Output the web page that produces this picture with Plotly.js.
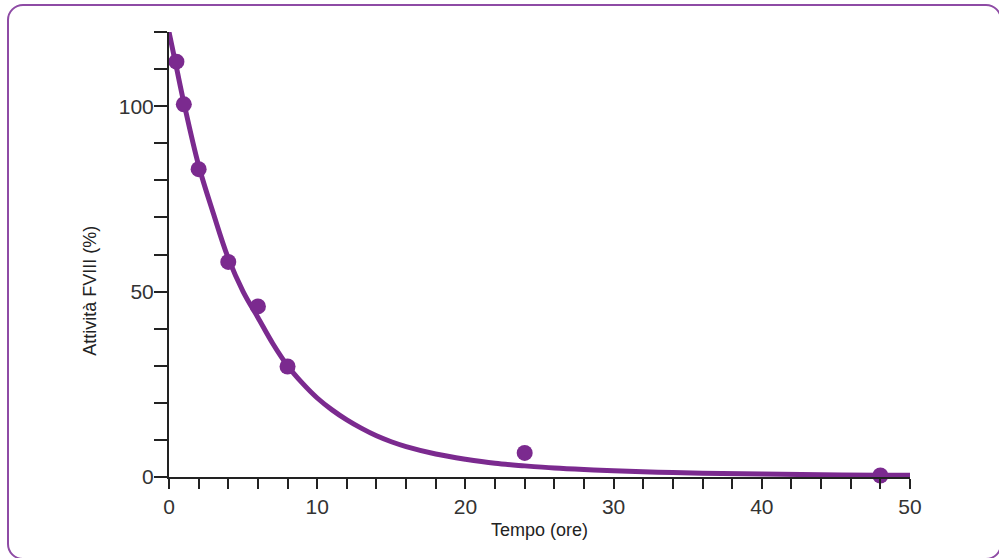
<!DOCTYPE html>
<html>
<head>
<meta charset="utf-8">
<script src="https://cdn.plot.ly/plotly-3.0.1.min.js"></script>
<style>
  html, body { margin: 0; padding: 0; background: #ffffff; overflow: hidden; }
  #frame { position: absolute; left: 7px; top: 4px; width: 991px; height: 552px;
           border: 2px solid #8E4BA5; border-radius: 16px; box-sizing: content-box; }
  #chart { position: absolute; left: 0; top: 0; width: 999px; height: 558px; }
</style>
</head>
<body>
<div id="frame"></div>
<div id="chart"></div>
<script>
// Measured data points (time in hours, FVIII activity %)
const sampleTimes = [0.5, 1, 2, 4, 6, 8, 24, 48];
const sampleActivity = [112, 100.5, 83, 58, 46, 29.8, 6.5, 0.4];

// Fitted curve, values
const curveTimes = [0, 0.5, 1, 2, 3, 4, 5, 6, 7, 8, 9, 10, 11, 12, 13, 14, 15, 16, 18, 20, 22, 24, 26, 28, 30, 33, 36, 40, 44, 48, 50];
const curveActivity = [120, 110.5, 101, 84, 71, 59, 50, 43, 36, 30, 25.3, 21.3, 18.1, 15.4, 13.1, 11.1, 9.5, 8.2, 6.2, 4.8, 3.7, 3.0, 2.4, 2.0, 1.7, 1.3, 1.0, 0.8, 0.6, 0.5, 0.45];

const xTickVals = [0, 10, 20, 30, 40, 50];
const yTickVals = [0, 50, 100];

const xTitle = 'Tempo (ore)';
const yTitle = 'Attività FVIII (%)';

const purple = '#7B2A8F';
const axisColor = '#222222';
const fontFamily = '"Liberation Sans Narrow", "Arial Narrow", "Liberation Sans", sans-serif';

const traces = [
  {
    x: curveTimes, y: curveActivity, type: 'scatter', mode: 'lines',
    line: { color: purple, width: 5, shape: 'spline', smoothing: 1 },
    cliponaxis: false, hoverinfo: 'skip', showlegend: false
  },
  {
    x: sampleTimes, y: sampleActivity, type: 'scatter', mode: 'markers',
    marker: { color: purple, size: 16 },
    cliponaxis: false, showlegend: false
  }
];

const layout = {
  width: 999, height: 558,
  margin: { l: 169, r: 89, t: 32, b: 81 },
  paper_bgcolor: 'rgba(0,0,0,0)',
  plot_bgcolor: 'rgba(0,0,0,0)',
  font: { family: fontFamily, size: 20, color: '#333333' },
  xaxis: {
    range: [0, 50], tickvals: xTickVals, ticktext: xTickVals.map(String),
    ticks: 'outside', ticklen: 10, tickwidth: 2, tickcolor: axisColor,
    minor: { dtick: 2, tick0: 0, ticks: 'outside', ticklen: 10, tickwidth: 2, tickcolor: axisColor },
    showline: true, linecolor: axisColor, linewidth: 2,
    showgrid: false, zeroline: false,
    tickfont: { family: fontFamily, size: 21, color: '#333333' },
    title: { text: xTitle, font: { family: fontFamily, size: 18, color: '#222222' }, standoff: 6 }
  },
  yaxis: {
    range: [0, 120], tickvals: yTickVals, ticktext: yTickVals.map(String),
    ticks: 'outside', ticklen: 13, tickwidth: 2, tickcolor: axisColor,
    minor: { dtick: 10, tick0: 0, ticks: 'outside', ticklen: 13, tickwidth: 2, tickcolor: axisColor },
    showline: true, linecolor: axisColor, linewidth: 2,
    showgrid: false, zeroline: false,
    tickfont: { family: fontFamily, size: 21, color: '#333333' },
    ticklabelstandoff: -4
  },
  annotations: [
    {
      text: yTitle, textangle: -90, xref: 'paper', yref: 'paper',
      x: -0.107, y: 0.418, xanchor: 'center', yanchor: 'middle', showarrow: false,
      font: { family: fontFamily, size: 18, color: '#222222' }
    }
  ]
};

Plotly.newPlot('chart', traces, layout, { staticPlot: true, displayModeBar: false });
</script>
</body>
</html>
